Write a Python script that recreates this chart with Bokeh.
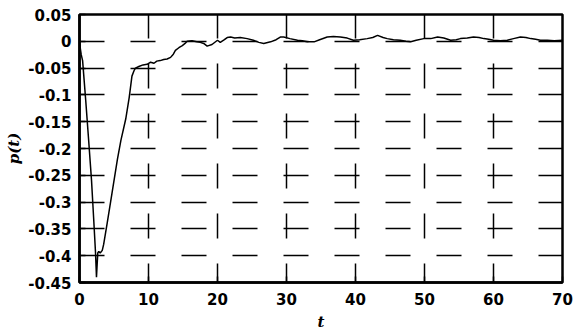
from bokeh.plotting import figure
from bokeh.models import FixedTicker, Range1d, ColumnDataSource
from bokeh.embed import file_html
from bokeh.resources import INLINE

# ---- data ----
t_vals = [0.0, 0.1, 0.25, 0.45, 0.9, 1.3, 1.74, 2.05, 2.32, 2.4, 2.46, 2.55, 2.65, 2.8, 3.0, 3.3, 3.5,
          4.0, 4.7, 5.5, 6.0, 6.7, 7.2, 7.6, 7.9, 8.1, 8.6, 9.2, 9.8, 10.3, 10.8, 11.2, 11.7, 12.2,
          12.7, 13.2, 13.6, 13.9, 14.4, 14.9, 15.3, 15.6, 16.3, 17.0, 17.5, 18.0, 18.5, 19.2, 20.0,
          20.4, 21.0, 21.4, 21.9, 22.5, 23.3, 24.3, 25.2, 26.0, 26.7, 27.7, 28.5, 29.1, 29.6, 30.5,
          31.6, 32.3, 33.0, 34.0, 34.8, 35.9, 36.8, 37.8, 38.8, 39.7, 40.6, 41.7, 42.5, 43.2, 44.0,
          44.6, 45.5, 46.5, 47.3, 48.0, 48.8, 49.9, 50.9, 51.9, 52.8, 53.8, 54.6, 55.2, 56.2, 57.1,
          57.9, 58.6, 59.3, 60.0, 61.0, 62.0, 62.9, 63.9, 64.7, 65.4, 66.1, 66.8, 67.8, 68.8, 70.0]
p_vals = [0.0, -0.012, -0.025, -0.036, -0.11, -0.18, -0.259, -0.33, -0.394, -0.42, -0.44, -0.418, -0.395, -0.392, -0.395, -0.39, -0.379,
          -0.34, -0.284, -0.22, -0.185, -0.145, -0.105, -0.065, -0.055, -0.05, -0.047, -0.044, -0.043, -0.039, -0.041, -0.037, -0.036, -0.034,
          -0.033, -0.03, -0.024, -0.017, -0.012, -0.008, -0.004, 0.0, 0.001, -0.001, -0.002, -0.004, -0.009, -0.006, 0.002,
          -0.002, 0.003, 0.007, 0.008, 0.006, 0.007, 0.005, 0.002, -0.002, -0.004, -0.001, 0.003, 0.008, 0.008, 0.005,
          0.002, 0.001, -0.001, -0.001, 0.003, 0.008, 0.009, 0.008, 0.006, 0.002, 0.003, 0.005, 0.007, 0.011, 0.007,
          0.005, 0.003, 0.002, 0.0, -0.001, 0.002, 0.005, 0.005, 0.008, 0.006, 0.002, 0.003, 0.005, 0.006, 0.008,
          0.007, 0.005, 0.004, 0.002, 0.001, 0.002, 0.005, 0.008, 0.007, 0.005, 0.004, 0.002, 0.002, 0.001, 0.002]

x_ticks = [0, 10, 20, 30, 40, 50, 60, 70]
x_tick_labels = ["0", "10", "20", "30", "40", "50", "60", "70"]
y_ticks = [0.05, 0.0, -0.05, -0.1, -0.15, -0.2, -0.25, -0.3, -0.35, -0.4, -0.45]
y_tick_labels = ["0.05", "0", "-0.05", "-0.1", "-0.15", "-0.2", "-0.25", "-0.3", "-0.35", "-0.4", "-0.45"]

src = ColumnDataSource(data=dict(t=t_vals, p=p_vals))

p = figure(width=576, height=334,
           x_range=Range1d(0, 70), y_range=Range1d(-0.45, 0.05),
           output_backend="svg", toolbar_location=None,
           min_border_left=79, min_border_right=14, min_border_top=14, min_border_bottom=52)
p.background_fill_color = "white"
p.border_fill_color = "white"
p.outline_line_color = "black"
p.outline_line_width = 2.5

p.line("t", "p", source=src, line_color="black", line_width=1.5)

for ax in p.xaxis:
    ax.ticker = FixedTicker(ticks=x_ticks)
    ax.major_label_overrides = {v: s for v, s in zip(x_ticks, x_tick_labels)}
    ax.axis_label = "t"
    ax.axis_label_standoff = 5
    ax.major_label_standoff = 10
for ax in p.yaxis:
    ax.ticker = FixedTicker(ticks=y_ticks)
    ax.major_label_overrides = {v: s for v, s in zip(y_ticks, y_tick_labels)}
    ax.axis_label = "p(t)"
    ax.axis_label_standoff = 2
    ax.major_label_standoff = 8

for ax in list(p.xaxis) + list(p.yaxis):
    ax.major_label_text_font = "DejaVu Sans"
    ax.major_label_text_font_style = "bold"
    ax.major_label_text_font_size = "15px"
    ax.major_label_text_color = "black"
    ax.axis_label_text_font = "DejaVu Serif"
    ax.axis_label_text_font_style = "bold italic"
    ax.axis_label_text_font_size = "15px"
    ax.axis_label_text_color = "black"
    ax.axis_line_color = "black"
    ax.axis_line_width = 2.5
    ax.major_tick_in = 6
    ax.major_tick_out = 0
    ax.major_tick_line_width = 1.5
    ax.major_tick_line_color = "black"
    ax.minor_tick_line_color = None

p.xgrid.ticker = FixedTicker(ticks=x_ticks)
p.ygrid.ticker = FixedTicker(ticks=y_ticks)
p.xgrid.grid_line_color = "black"
p.xgrid.grid_line_width = 1.5
p.xgrid.grid_line_dash = "25 25"
p.xgrid.grid_line_dash_offset = 6
p.ygrid.grid_line_color = "black"
p.ygrid.grid_line_width = 1.5
p.ygrid.grid_line_dash = "25 26"
p.ygrid.grid_line_dash_offset = 0

open("out.html", "w").write(file_html(p, INLINE))
